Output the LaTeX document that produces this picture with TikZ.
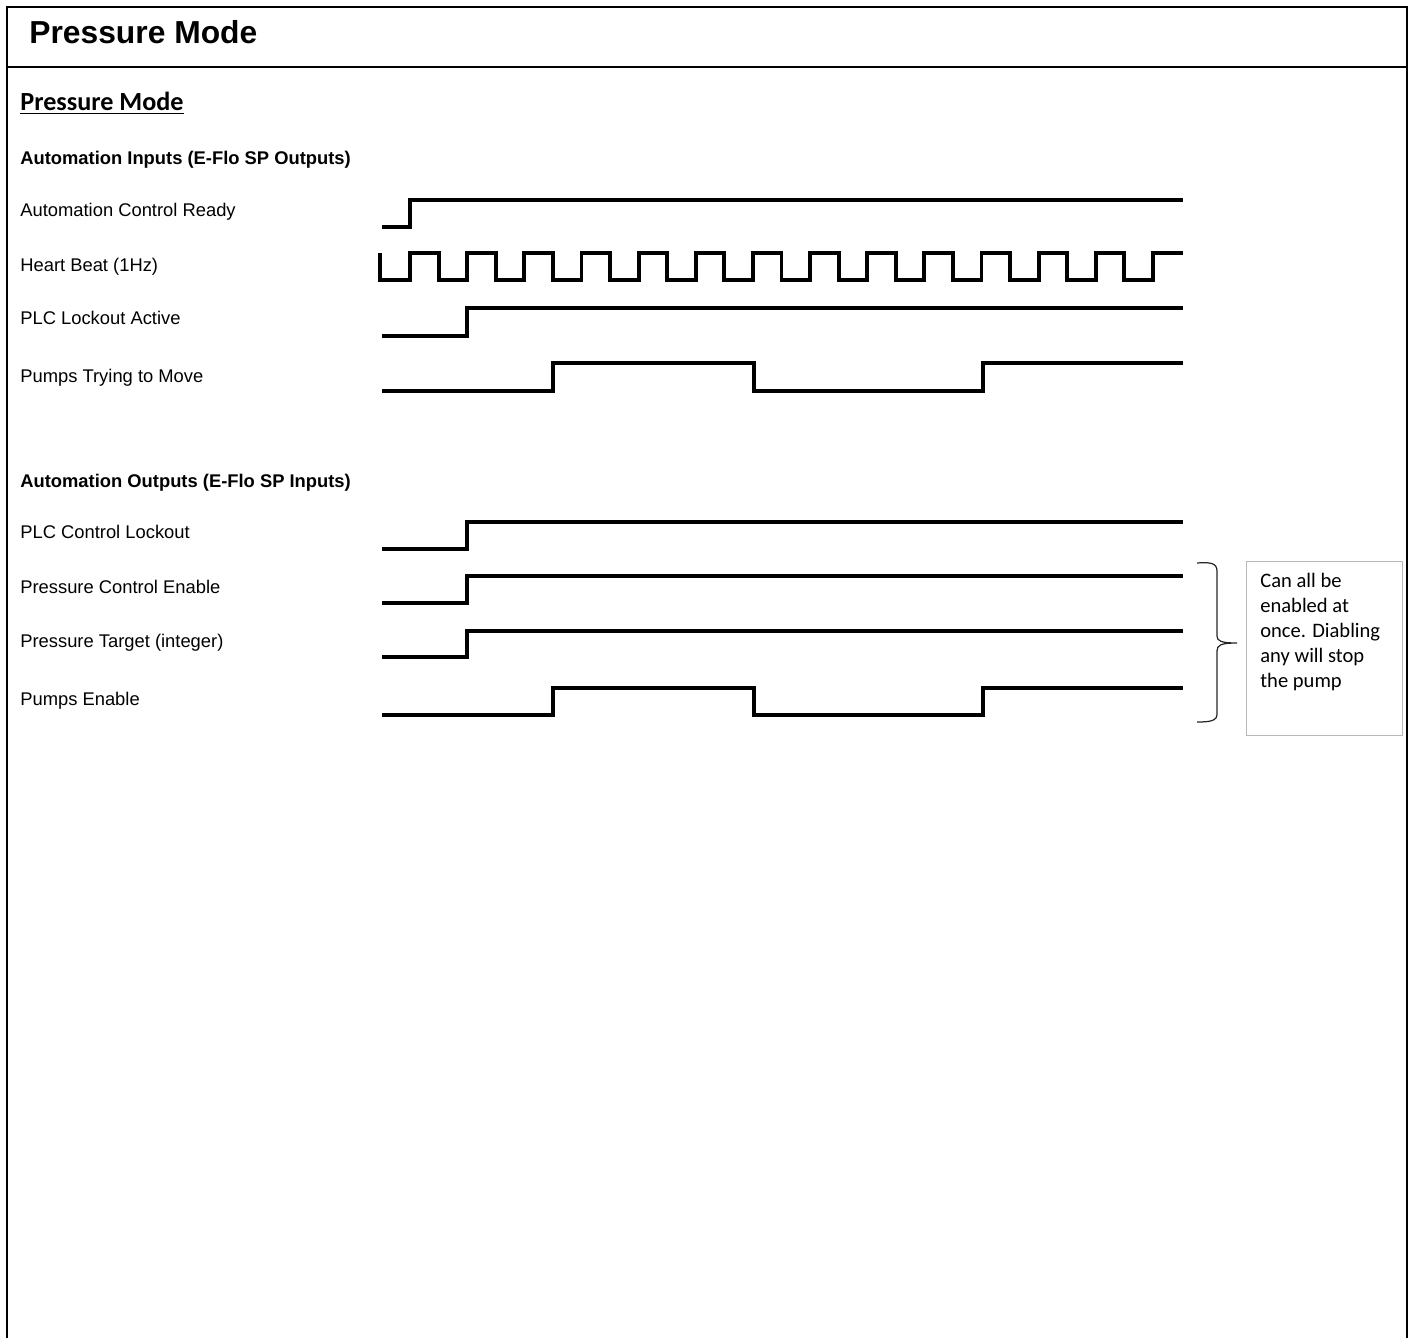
\documentclass[tikz,border=0pt]{standalone}
\usepackage{fontspec}
\setmainfont{Liberation Sans}
\newfontfamily\calibri{Carlito}
\usetikzlibrary{positioning}

\tikzset{
  frame/.style={line width=1.3pt},
  wave/.style={line width=2.2pt},
  sig/.style={anchor=base west, inner sep=0pt, font=\fontsize{10.45}{12.5}\selectfont},
  group/.style={anchor=base west, inner sep=0pt, font=\fontsize{10.45}{12.5}\selectfont\bfseries},
}

\begin{document}
\begin{tikzpicture}[x=0.02cm, y=-0.02cm]
\useasboundingbox (0,0) rectangle (1411,1338);
% frame and title bar
\draw[frame] (7,1338) -- (7,7) -- (1407,7) -- (1407,1338);
\draw[frame] (7,67) -- (1407,67);
\node[anchor=base west, inner sep=0pt, font=\fontsize{18.1}{21}\selectfont\bfseries] (title) at (29,44) {Pressure Mode};
\node[anchor=base west, inner sep=0pt, font=\calibri\fontsize{14.9}{18}\selectfont\bfseries] (subtitle) at (20,111) {\underline{Pressure Mode}};

% inputs
\node[group] (inhead) at (20,165) {Automation Inputs (E-Flo SP Outputs)};
\node[sig] (lblready) at (20,217) {Automation Control Ready};
\node[sig] (lblbeat) at (20,272) {Heart Beat (1Hz)};
\node[sig] (lbllockact) at (20,325) {PLC Lockout Active};
\node[sig] (lbltrying) at (20,383) {Pumps Trying to Move};

\draw[wave] (382,227) -- (410,227) -- (410,200) -- (1183,200);
\draw[wave] (380,253) -- (380,280) \foreach \k in {0,...,12} {
  -- ({410+57.15*\k},280) -- ({410+57.15*\k},253)
  -- ({438.6+57.15*\k},253) -- ({438.6+57.15*\k},280) }
  -- (1153,280) -- (1153,253) -- (1183,253);
\draw[wave] (382,336) -- (467,336) -- (467,308) -- (1183,308);
\draw[wave] (382,391) -- (553,391) -- (553,363) -- (754,363) -- (754,391)
  -- (983,391) -- (983,363) -- (1183,363);

% outputs
\node[group] (outhead) at (20,487) {Automation Outputs (E-Flo SP Inputs)};
\node[sig] (lblctrllock) at (20,539) {PLC Control Lockout};
\node[sig] (lblpressen) at (20,593) {Pressure Control Enable};
\node[sig] (lbltarget) at (20,647) {Pressure Target (integer)};
\node[sig] (lblpumpen) at (20,705) {Pumps Enable};

\draw[wave] (382,549) -- (467,549) -- (467,522) -- (1183,522);
\draw[wave] (382,603) -- (467,603) -- (467,576) -- (1183,576);
\draw[wave] (382,657) -- (467,657) -- (467,631) -- (1183,631);
\draw[wave] (382,715) -- (553,715) -- (553,688) -- (754,688) -- (754,715)
  -- (983,715) -- (983,688) -- (1183,688);

% note
\coordinate (bracetop) at (1197,563);
\coordinate (bracetip) at (1237,643);
\coordinate (bracebot) at (1197,722);
\draw[line width=0.7pt, black!85] (bracetop) .. controls (1210,562) and (1217,563) .. (1217,571)
  -- (1217,636) .. controls (1217,641) and (1221,643) .. (bracetip)
  .. controls (1221,643) and (1217,645) .. (1217,651)
  -- (1217,714) .. controls (1217,721) and (1210,722) .. (bracebot);
\node[draw=gray!55, line width=0.7pt, anchor=north west, minimum width=156*0.02cm, minimum height=174*0.02cm, inner sep=0pt] (notebox) at (1246,561) {};
\node[anchor=north west, inner sep=0pt, align=left, font=\calibri\fontsize{11.7}{14.2}\selectfont] (notetext) at (1260,573) {Can all be\\enabled at\\once. Diabling\\any will stop\\the pump};
\end{tikzpicture}
\end{document}
